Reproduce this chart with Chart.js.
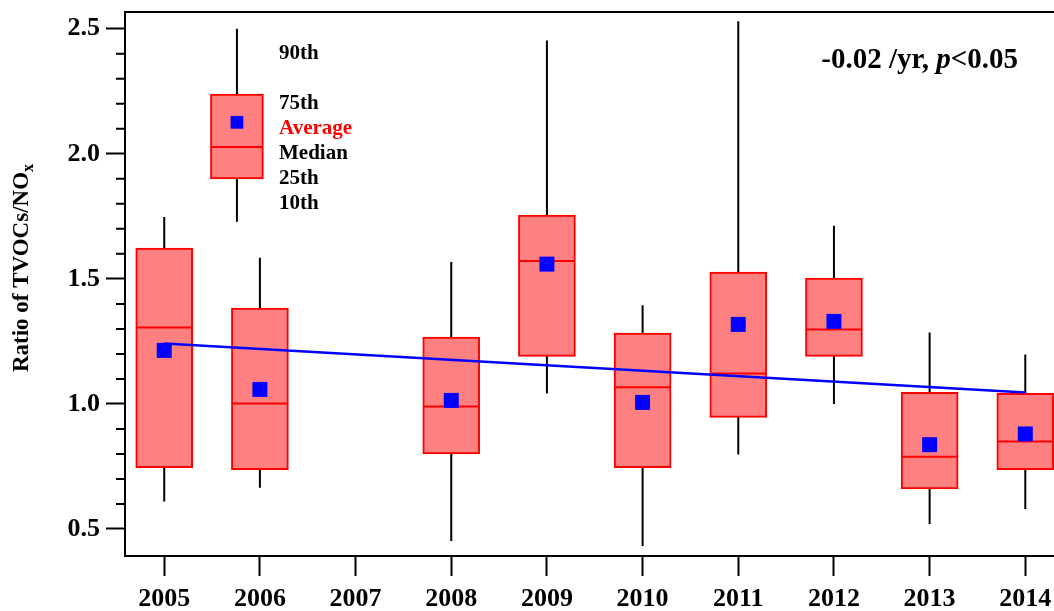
<!DOCTYPE html>
<html>
<head>
<meta charset="utf-8">
<script src="https://cdn.jsdelivr.net/npm/chart.js@4"></script>
<style>
  body { margin: 0; background: #fff; }
</style>
</head>
<body>
<canvas id="myChart" width="1054" height="611"></canvas>
<script>
const years = [2005, 2006, 2007, 2008, 2009, 2010, 2011, 2012, 2013, 2014];
const boxYears = [2005, 2006, 2008, 2009, 2010, 2011, 2012, 2013, 2014];
const p10 = [0.61, 0.665, 0.452, 1.042, 0.432, 0.798, 1.00, 0.52, 0.58];
const p25 = [0.745, 0.737, 0.80, 1.19, 0.745, 0.946, 1.19, 0.66, 0.737];
const median = [1.306, 1.002, 0.99, 1.571, 1.067, 1.122, 1.298, 0.789, 0.85];
const p75 = [1.623, 1.383, 1.267, 1.755, 1.283, 1.527, 1.503, 1.046, 1.042];
const p90 = [1.747, 1.584, 1.567, 2.453, 1.395, 2.53, 1.712, 1.286, 1.198];
const average = [1.214, 1.058, 1.014, 1.559, 1.006, 1.318, 1.33, 0.837, 0.88];

const trendX = [2005, 2014];
const trendY = [1.242, 1.046];

const yTicks = [0.5, 1.0, 1.5, 2.0, 2.5];
const yMinorTicks = [0.6, 0.7, 0.8, 0.9, 1.1, 1.2, 1.3, 1.4, 1.6, 1.7, 1.8, 1.9, 2.1, 2.2, 2.3, 2.4];

// the little key box drawn inside the plot
const keyX = 2005.76;
const keyWhisker = [1.728, 2.5];
const keyBox = [1.9, 2.239];
const keyMedian = 2.027;
const keyAverage = 2.126;
const keyLabels = ['90th', '75th', 'Average', 'Median', '25th', '10th'];
const keyLabelY = [2.4, 2.2, 2.1, 2.0, 1.9, 1.8];
const keyLabelX = 2006.2;

const serif = "'Liberation Serif', 'Times New Roman', serif";

let whiskerData = [];
boxYears.forEach((yr, i) => {
  whiskerData.push({x: yr, y: p10[i]}, {x: yr, y: p90[i]}, {x: yr, y: null});
});
whiskerData.push({x: keyX, y: keyWhisker[0]}, {x: keyX, y: keyWhisker[1]});

const extras = {
  id: 'extras',
  afterDraw(chart) {
    const ctx = chart.ctx;
    const a = chart.chartArea;
    const xs = chart.scales.x, ys = chart.scales.y;
    ctx.save();
    ctx.strokeStyle = '#000';
    ctx.lineWidth = 2;
    ctx.beginPath();
    ctx.moveTo(a.left - 1, a.top);
    ctx.lineTo(a.right, a.top);
    ctx.stroke();

    // minor ticks on the y axis
    ctx.beginPath();
    yMinorTicks.forEach(v => {
      const py = ys.getPixelForValue(v);
      ctx.moveTo(a.left - 9, py);
      ctx.lineTo(a.left, py);
    });
    ctx.stroke();

    // y title with subscript
    ctx.save();
    ctx.translate(28, 268);
    ctx.rotate(-Math.PI / 2);
    ctx.fillStyle = '#000';
    ctx.textBaseline = 'alphabetic';
    ctx.font = 'bold 23px ' + serif;
    const main = 'Ratio of TVOCs/NO';
    const w1 = ctx.measureText(main).width;
    ctx.font = 'bold 16px ' + serif;
    const w2 = ctx.measureText('x').width;
    const start = -(w1 + w2) / 2;
    ctx.font = 'bold 23px ' + serif;
    ctx.fillText(main, start, 0);
    ctx.font = 'bold 16px ' + serif;
    ctx.fillText('x', start + w1, 5);
    ctx.restore();

    // key labels
    ctx.font = 'bold 21px ' + serif;
    ctx.textBaseline = 'middle';
    ctx.textAlign = 'left';
    keyLabels.forEach((t, i) => {
      ctx.fillStyle = t === 'Average' ? '#ff0000' : '#000';
      ctx.fillText(t, xs.getPixelForValue(keyLabelX), ys.getPixelForValue(keyLabelY[i]));
    });

    // trend annotation
    ctx.textBaseline = 'alphabetic';
    const b = 'bold 29px ' + serif, bi = 'italic bold 29px ' + serif;
    const parts = [['-0.02 /yr, ', b], ['p', bi], ['<0.05', b]];
    let total = 0;
    parts.forEach(p => { ctx.font = p[1]; total += ctx.measureText(p[0]).width; });
    let px = 1018 - total;
    ctx.fillStyle = '#000';
    parts.forEach(p => { ctx.font = p[1]; ctx.fillText(p[0], px, 68); px += ctx.measureText(p[0]).width; });
    ctx.restore();
  }
};

new Chart(document.getElementById('myChart'), {
  type: 'bar',
  data: {
    datasets: [
      {
        type: 'line',
        label: 'whiskers',
        data: whiskerData,
        borderColor: '#000',
        borderWidth: 2,
        pointRadius: 0,
        spanGaps: false,
        order: 6
      },
      {
        label: 'boxes',
        data: boxYears.map((yr, i) => ({x: yr, y: [p25[i], p75[i]]})),
        backgroundColor: 'rgb(255, 128, 128)',
        borderColor: '#ff0000',
        borderWidth: 2,
        borderSkipped: false,
        barThickness: 57,
        grouped: false,
        order: 5
      },
      {
        label: 'key box',
        data: [{x: keyX, y: keyBox}],
        backgroundColor: 'rgb(255, 128, 128)',
        borderColor: '#ff0000',
        borderWidth: 2,
        borderSkipped: false,
        barThickness: 53,
        grouped: false,
        order: 5
      },
      {
        type: 'scatter',
        label: 'median',
        data: boxYears.map((yr, i) => ({x: yr, y: median[i]})).concat([{x: keyX, y: keyMedian}]),
        pointStyle: 'line',
        pointRadius: boxYears.map(() => 28).concat([26]),
        borderColor: '#ff0000',
        borderWidth: 2,
        order: 3
      },
      {
        type: 'line',
        label: 'trend',
        data: trendX.map((x, i) => ({x: x, y: trendY[i]})),
        borderColor: '#0000ff',
        borderWidth: 2.5,
        pointRadius: 0,
        order: 2
      },
      {
        type: 'scatter',
        label: 'average',
        data: boxYears.map((yr, i) => ({x: yr, y: average[i]})).concat([{x: keyX, y: keyAverage}]),
        pointStyle: 'rect',
        pointRadius: boxYears.map(() => 10.6).concat([9]),
        backgroundColor: '#0000ff',
        borderWidth: 0,
        order: 1
      }
    ]
  },
  options: {
    responsive: false,
    animation: false,
    layout: { autoPadding: false, padding: { top: 12, left: 0, right: 0, bottom: 0 } },
    plugins: { legend: { display: false }, tooltip: { enabled: false } },
    scales: {
      x: {
        type: 'linear',
        min: 2004.59,
        max: 2014.30,
        offset: false,
        afterBuildTicks: s => { s.ticks = years.map(v => ({value: v})); },
        afterFit: s => { s.height = 55; s.paddingLeft = 0; s.paddingRight = 0; },
        grid: { drawOnChartArea: false, tickLength: 20, tickWidth: 2, tickColor: '#000', offset: false },
        border: { display: true, color: '#000', width: 2 },
        ticks: {
          color: '#000',
          padding: 8,
          maxRotation: 0,
          autoSkip: false,
          font: { family: serif, size: 26, weight: 'bold' },
          callback: v => String(v)
        }
      },
      y: {
        min: 0.392,
        max: 2.567,
        afterBuildTicks: s => { s.ticks = yTicks.map(v => ({value: v})); },
        afterFit: s => { s.width = 125; s.paddingTop = 0; s.paddingBottom = 0; },
        grid: { drawOnChartArea: false, tickLength: 19, tickWidth: 2, tickColor: '#000' },
        border: { display: true, color: '#000', width: 2 },
        ticks: {
          color: '#000',
          padding: 6,
          font: { family: serif, size: 26, weight: 'bold' },
          callback: v => v.toFixed(1)
        }
      }
    }
  },
  plugins: [extras]
});
</script>
</body>
</html>
